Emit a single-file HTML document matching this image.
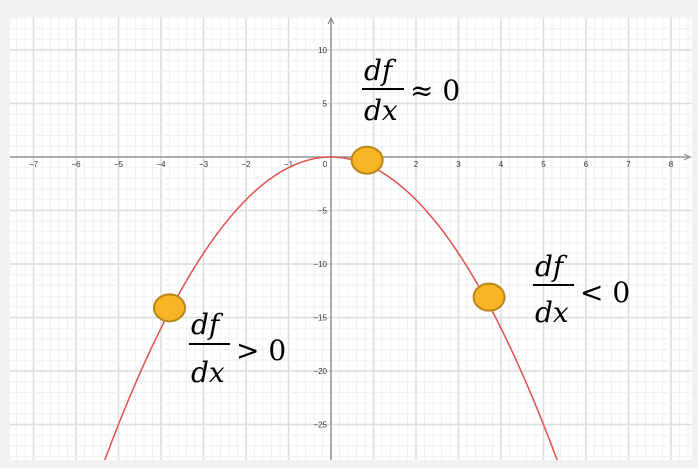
<!DOCTYPE html>
<html><head><meta charset="utf-8"><style>
html,body{margin:0;background:#f2f2f1;width:698px;height:468px;overflow:hidden;}
svg{display:block;font-family:"Liberation Sans",sans-serif;}
.m{font-family:"DejaVu Serif","Liberation Serif",serif;font-style:italic;font-size:28px;}
.r{font-family:"DejaVu Serif","Liberation Serif",serif;font-size:28px;}
</style></head><body>
<svg id="c" width="698" height="468">
<rect x="10" y="17" width="682" height="443" fill="#fff"/>
<g id="grid"></g><g id="axes"></g><g id="curve"></g><g id="pts"></g>
<g>
<text class="m" x="364" y="80">df</text><line x1="362" y1="89" x2="404" y2="89" stroke="#000" stroke-width="2"/><text class="m" x="364" y="120">dx</text><text class="r" x="410" y="100">≈ 0</text></g>
<g>
<text class="m" x="191" y="334">df</text><line x1="189" y1="344" x2="230" y2="344" stroke="#000" stroke-width="2"/><text class="m" x="191" y="382">dx</text><text class="r" x="236" y="360">&gt; 0</text></g>
<g>
<text class="m" x="535" y="276">df</text><line x1="533" y1="285" x2="574" y2="285" stroke="#000" stroke-width="2"/><text class="m" x="535" y="322">dx</text><text class="r" x="580" y="302">&lt; 0</text></g>
</svg>
<script>
const xTicks=[-7,-6,-5,-4,-3,-2,-1,1,2,3,4,5,6,7,8];
const yTicks=[10,5,-5,-10,-15,-20,-25];
const pointX=[-3.8,0.85,3.72];
const pointY=[-14.1,-0.3,-13.1];
const coef=-1;
const NS='http://www.w3.org/2000/svg';
const X=v=>331+v*42.5, Y=v=>157-v*10.7;
function mk(p,t,a){const e=document.createElementNS(NS,t);for(const k in a)e.setAttribute(k,a[k]);p.appendChild(e);return e;}
const g=document.getElementById('grid'),ax=document.getElementById('axes');
for(let i=-8;i<=9;i+=0.2){const x=X(i);if(x<10||x>692)continue;const maj=Math.abs(i-Math.round(i))<1e-6;
const l=mk(g,'line',{x1:x,x2:x,y1:17,y2:460,stroke:maj?'#dcdcdc':'#f0f0f0','stroke-width':maj?1.5:1});

}
for(let j=-29;j<=13;j++){const y=Y(j);if(y<17||y>460)continue;const maj=j%5===0;
const l=mk(g,'line',{x1:10,x2:692,y1:y,y2:y,stroke:maj?'#dcdcdc':'#f0f0f0','stroke-width':maj?1.5:1});

}
let a=mk(ax,'line',{x1:10,x2:690,y1:Y(0),y2:Y(0),stroke:'#888','stroke-width':1.3});

mk(ax,'path',{d:`M684 ${Y(0)-3} L690 ${Y(0)} L684 ${Y(0)+3}`,fill:'none',stroke:'#888'});
a=mk(ax,'line',{x1:X(0),x2:X(0),y1:18,y2:460,stroke:'#888','stroke-width':1.3});

mk(ax,'path',{d:`M${X(0)-3} 24 L${X(0)} 18 L${X(0)+3} 24`,fill:'none',stroke:'#888'});
xTicks.forEach(v=>{const t=mk(ax,'text',{x:X(v),y:Y(0)+10,'font-size':8,'text-anchor':'middle',fill:'#333'});t.textContent=v<0?'−'+(-v):v;
});
const z=mk(ax,'text',{x:X(0)-6,y:Y(0)+10,'font-size':8,'text-anchor':'middle',fill:'#333'});z.textContent='0';
yTicks.forEach(v=>{const t=mk(ax,'text',{x:X(0)-4,y:Y(v)+3,'font-size':8,'text-anchor':'end',fill:'#333'});t.textContent=v<0?'−'+(-v):v;
});
let d='';for(let x=-6;x<=6;x+=0.02){const y=Y(coef*x*x);d+=(d?'L':'M')+X(x).toFixed(1)+' '+y.toFixed(1);}
const cp=document.getElementById('curve');
mk(cp,'clipPath',{id:'cl'});mk(document.getElementById('cl'),'rect',{x:10,y:17,width:682,height:443});
const c=mk(cp,'path',{d:d,fill:'none',stroke:'#e05050','stroke-width':1.5,'clip-path':'url(#cl)'});

pointX.forEach((v,i)=>{const p=mk(document.getElementById('pts'),'ellipse',{cx:X(v),cy:Y(pointY[i]),rx:15.5,ry:13.5,fill:'#f8b424',stroke:'#b8861a','stroke-width':2});
});
</script>
</body></html>
